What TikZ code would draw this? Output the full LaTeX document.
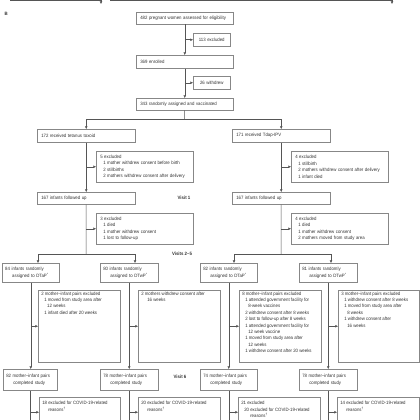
\documentclass[tikz,border=0pt]{standalone}
\usepackage{fontspec}
\newfontfamily\chartfont{Liberation Sans}[FakeStretch=0.92]
\usetikzlibrary{arrows.meta}
\definecolor{boxgray}{RGB}{135,135,135}
\definecolor{linegray}{RGB}{85,85,85}
\definecolor{txtgray}{RGB}{50,50,50}
\hyphenpenalty=10000
\exhyphenpenalty=10000

\begin{document}
\begin{tikzpicture}[x=1pt,y=-1pt,
	every node/.style={font=\chartfont\fontsize{4.7}{6.4}\selectfont, text=txtgray},
	fbox/.style={draw=boxgray, line width=.5pt, anchor=north west, inner xsep=4pt, inner ysep=0pt, align=left},
	rbox/.style={fbox, inner xsep=3pt},
	xbox/.style={draw=boxgray, line width=.5pt, anchor=north west, inner xsep=3pt, inner ysep=1.5pt},
	cbox/.style={xbox, inner ysep=4pt},
	arr/.style={draw=linegray, line width=.5pt, -{Triangle[length=2.6pt,width=2.4pt]}},
	ln/.style={draw=linegray, line width=.5pt},
	visit/.style={font=\chartfont\bfseries\fontsize{4.7}{6}\selectfont}]
	% page
	\fill[white] (0,0) rectangle (420,420);
	\useasboundingbox (0,0) rectangle (420,420);
	% end of panel A
	\coordinate (p1) at (10,0.6);
	\coordinate (p2) at (101,4);
	\coordinate (p3) at (110,0.6);
	\coordinate (p4) at (392,4);
	\draw[arr] (p1) -| (p2);
	\draw[arr] (p3) -| (p4);
	\node[anchor=west, font=\chartfont\bfseries\fontsize{4.7}{6}\selectfont] (lblB) at (1,14) {B};
	% enrolment
	\node[fbox, text width=89pt, minimum height=12] (b482) at (136,12) {482 pregnant women assessed for eligibility};
	\node[fbox, text width=29pt, minimum height=13, align=center] (ex113) at (193,33) {113 excluded};
	\node[fbox, text width=89pt, minimum height=13] (b369) at (136,55) {369 enrolled};
	\node[fbox, text width=29pt, minimum height=13, align=center] (ex26) at (193,76) {26 withdrew};
	\node[fbox, text width=89pt, minimum height=12] (b343) at (136,98) {343 randomly assigned and vaccinated};
	% maternal arms
	\node[fbox, text width=90pt, minimum height=13] (t172) at (37,129) {172 received tetanus toxoid};
	\node[fbox, text width=90pt, minimum height=13] (t171) at (232,129) {171 received Tdap-IPV};
	\node[fbox, text width=89pt, minimum height=31] (exL1) at (96,151) {5 excluded\\\hspace*{3pt}1 mother withdrew consent before birth\\\hspace*{3pt}2 stillbirths\\\hspace*{3pt}2 mothers withdrew consent after delivery};
	\node[fbox, text width=89pt, minimum height=31] (exR1) at (291,151) {4 excluded\\\hspace*{3pt}1 stillbirth\\\hspace*{3pt}2 mothers withdrew consent after delivery\\\hspace*{3pt}1 infant died};
	\node[fbox, text width=90pt, minimum height=12] (f167L) at (37,192) {167 infants followed up};
	\node[fbox, text width=90pt, minimum height=12] (f167R) at (232,192) {167 infants followed up};
	\node[fbox, text width=89pt, minimum height=31] (exL2) at (96,213) {3 excluded\\\hspace*{3pt}1 died\\\hspace*{3pt}1 mother withdrew consent\\\hspace*{3pt}1 lost to follow-up};
	\node[fbox, text width=89pt, minimum height=31] (exR2) at (291,213) {4 excluded\\\hspace*{3pt}1 died\\\hspace*{3pt}1 mother withdrew consent\\\hspace*{3pt}2 mothers moved from study area};
	% infant arms
	\node[rbox, text width=51pt, minimum height=19] (r84) at (2,263) {84 infants randomly\\\hspace*{7pt}assigned to DTaP\textsuperscript{*}};
	\node[rbox, text width=52pt, minimum height=19] (r80) at (100,263) {80 infants randomly\\\hspace*{7pt}assigned to DTwP\textsuperscript{*}};
	\node[rbox, text width=51pt, minimum height=19] (r82) at (200,263) {82 infants randomly\\\hspace*{7pt}assigned to DTaP\textsuperscript{*}};
	\node[rbox, text width=52pt, minimum height=19] (r81) at (299,263) {81 infants randomly\\\hspace*{7pt}assigned to DTwP\textsuperscript{*}};
	\node[xbox] (exA) at (38,290) {\parbox[b][69pt][t]{76pt}{\raggedright
		2 mother–infant pairs excluded\\\hspace*{3pt}1 moved from study area after\\\hspace*{6pt}12 weeks\\\hspace*{3pt}1 infant died after 20 weeks}};
	\node[xbox] (exB) at (138,290) {\parbox[b][69pt][t]{76pt}{\raggedright
		2 mothers withdrew consent after\\\hspace*{6pt}16 weeks}};
	\node[xbox] (exC) at (239,290) {\parbox[b][69pt][t]{76pt}{\raggedright
		8 mother–infant pairs excluded\\\hspace*{3pt}1 attended government facility for\\\hspace*{6pt}8-week vaccines\\\hspace*{3pt}2 withdrew consent after 8 weeks\\\hspace*{3pt}2 lost to follow-up after 8 weeks\\\hspace*{3pt}1 attended government facility for\\\hspace*{6pt}12 week vaccine\\\hspace*{3pt}1 moved from study area after\\\hspace*{6pt}12 weeks\\\hspace*{3pt}1 withdrew consent after 20 weeks}};
	\node[xbox] (exD) at (338,290) {\parbox[b][69pt][t]{75pt}{\raggedright
		3 mother–infant pairs excluded\\\hspace*{3pt}1 withdrew consent after 8 weeks\\\hspace*{3pt}1 moved from study area after\\\hspace*{6pt}8 weeks\\\hspace*{3pt}1 withdrew consent after\\\hspace*{6pt}16 weeks}};
	\node[rbox, text width=48pt, minimum height=21] (c82) at (3,369) {82 mother–infant pairs\\\hspace*{7pt}completed study};
	\node[rbox, text width=52pt, minimum height=21] (c78) at (100,369) {78 mother–infant pairs\\\hspace*{7pt}completed study};
	\node[rbox, text width=51pt, minimum height=21] (c74) at (200,369) {74 mother–infant pairs\\\hspace*{7pt}completed study};
	\node[rbox, text width=52pt, minimum height=21] (c78b) at (299,369) {78 mother–infant pairs\\\hspace*{7pt}completed study};
	\node[cbox] (covA) at (39,397) {\parbox[b][22pt][t]{75pt}{\raggedright
		18 excluded for COVID-19-related\\\hspace*{6pt}reasons\textsuperscript{†}}};
	\node[cbox] (covB) at (138,397) {\parbox[b][22pt][t]{76pt}{\raggedright
		20 excluded for COVID-19-related\\\hspace*{6pt}reasons\textsuperscript{†}}};
	\node[cbox] (covC) at (238,397) {\parbox[b][22pt][t]{76pt}{\raggedright
		21 excluded\\\hspace*{3pt}20 excluded for COVID-19-related\\\hspace*{9pt}reasons\textsuperscript{†}}};
	\node[cbox] (covD) at (337,397) {\parbox[b][22pt][t]{76pt}{\raggedright
		14 excluded for COVID-19-related\\\hspace*{6pt}reasons\textsuperscript{†}}};
	% visit labels
	\node[visit] (v1) at (184,198) {Visit 1};
	\node[visit] (v25) at (182,254) {Visits 2–5};
	\node[visit] (v6) at (180,377) {Visit 6};
	% draw connectors
	\draw[arr] (b482) -- (b369);
	\draw[arr] (b482 |- ex113) -- (ex113);
	\draw[arr] (b369) -- (b343);
	\draw[arr] (b369 |- ex26) -- (ex26);
	\coordinate (s0) at (184.5,119.5);
	\draw[ln] (b343) -- (s0);
	\draw[arr] (s0) -| (t172);
	\draw[arr] (s0) -| (t171);
	% left and right arms
	\draw[arr] (t172) -- (f167L);
	\draw[arr] (t172 |- exL1) -- (exL1);
	\draw[arr] (t171) -- (f167R);
	\draw[arr] (t171 |- exR1) -- (exR1);
	\coordinate (sL) at (86,254);
	\coordinate (sR) at (281,254);
	\draw[ln] (f167L) -- (sL);
	\draw[ln] (f167R) -- (sR);
	\draw[arr] (f167L |- exL2) -- (exL2);
	\draw[arr] (f167R |- exR2) -- (exR2);
	\coordinate (aL1) at (38,254);
	\coordinate (aL2) at (135,254);
	\coordinate (aR1) at (234,254);
	\coordinate (aR2) at (331,254);
	\draw[ln] (aL1) -- (aL2);
	\draw[ln] (aR1) -- (aR2);
	\draw[arr] (aL1) -- (aL1 |- r84.north);
	\draw[arr] (aL2) -- (aL2 |- r80.north);
	\draw[arr] (aR1) -- (aR1 |- r82.north);
	\draw[arr] (aR2) -- (aR2 |- r81.north);
	% infant columns
	\foreach \r/\e/\c/\v in {r84/exA/c82/covA, r80/exB/c78/covB, r82/exC/c74/covC, r81/exD/c78b/covD}{
		\draw[arr] (\r.south) -- (\r.south |- \c.north);
		\draw[arr] (\r.south |- \e) -- (\e);
		\draw[ln] (\c.south) -- (\c.south |- \v.south);
		\draw[arr] (\c.south |- \v) -- (\v);
	}
\end{tikzpicture}
\end{document}
